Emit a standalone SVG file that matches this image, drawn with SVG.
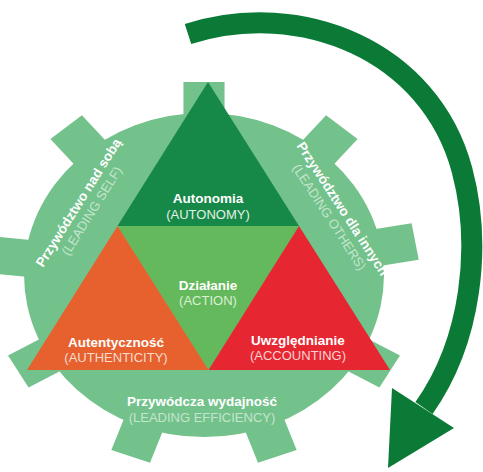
<svg xmlns="http://www.w3.org/2000/svg" width="483" height="472" viewBox="0 0 483 472">
<style>
.t1{font-family:"Liberation Sans",Arial,sans-serif;font-weight:700;font-size:13.5px;fill:#ffffff;text-anchor:middle}
.t2{font-family:"Liberation Sans",Arial,sans-serif;font-weight:400;font-size:13px;text-anchor:middle}
.tooth{fill:#73c18b}
</style>
<rect width="483" height="472" fill="#ffffff"/>
<g id="gear">
<g transform="translate(204,275) scale(1.111,1)">
<circle cx="0" cy="0" r="162" class="tooth"/>
<rect class="tooth" x="-18.5" y="-193" width="37" height="50" transform="rotate(0)"/>
<rect class="tooth" x="-18.5" y="-193" width="37" height="50" transform="rotate(40)"/>
<rect class="tooth" x="-18.5" y="-193" width="37" height="50" transform="rotate(80)"/>
<rect class="tooth" x="-18.5" y="-193" width="37" height="50" transform="rotate(120)"/>
<rect class="tooth" x="-18.5" y="-193" width="37" height="50" transform="rotate(160)"/>
<rect class="tooth" x="-18.5" y="-193" width="37" height="50" transform="rotate(200)"/>
<rect class="tooth" x="-18.5" y="-193" width="37" height="50" transform="rotate(240)"/>
<rect class="tooth" x="-18.5" y="-193" width="37" height="50" transform="rotate(276)"/>
<rect class="tooth" x="-18.5" y="-193" width="37" height="50" transform="rotate(320)"/>
</g>
</g>
<g id="autonomy">
<polygon points="208,82 117.5,226 299,226" fill="#168847"/>
<text class="t1" x="208" y="203">Autonomia</text>
<text class="t2" x="208" y="218.5" fill="#e3f1e6">(AUTONOMY)</text>
</g>
<g id="action">
<polygon points="117.5,226 299,226 208.5,370" fill="#63b95b"/>
<text class="t1" x="208" y="289.5">Działanie</text>
<text class="t2" x="208" y="305" fill="#dcf0d6">(ACTION)</text>
</g>
<g id="authenticity">
<polygon points="117.5,226 208.5,370 27,370" fill="#e6612e"/>
<text class="t1" x="116" y="346.5">Autentyczność</text>
<text class="t2" x="116" y="362" fill="#f7dccd">(AUTHENTICITY)</text>
</g>
<g id="accounting">
<polygon points="299,226 390,370 208.5,370" fill="#e62631"/>
<text class="t1" x="298" y="344.5">Uwzględnianie</text>
<text class="t2" x="298" y="360" fill="#f8d3d3">(ACCOUNTING)</text>
</g>
<g id="leading-self" transform="translate(79,203) rotate(-58)">
<text class="t1" x="0" y="4">Przywództwo nad sobą</text>
<text class="t2" x="0" y="19.5" fill="#c4e6cd">(LEADING SELF)</text>
</g>
<g id="leading-others" transform="translate(342,209) rotate(57)">
<text class="t1" x="0" y="4">Przywództwo dla innych</text>
<text class="t2" x="0" y="19.5" fill="#c4e6cd">(LEADING OTHERS)</text>
</g>
<g id="leading-efficiency">
<text class="t1" x="202" y="406">Przywódcza wydajność</text>
<text class="t2" x="202" y="421.5" fill="#c4e6cd">(LEADING EFFICIENCY)</text>
</g>
<g id="connectors">
<path d="M188,34 C300,-2 430,50 462,170 C482,245 472,340 424,408" fill="none" stroke="#0b7a36" stroke-width="21"/>
<polygon points="454,428 392,388 388,468" fill="#0b7a36"/>
</g>
</svg>
